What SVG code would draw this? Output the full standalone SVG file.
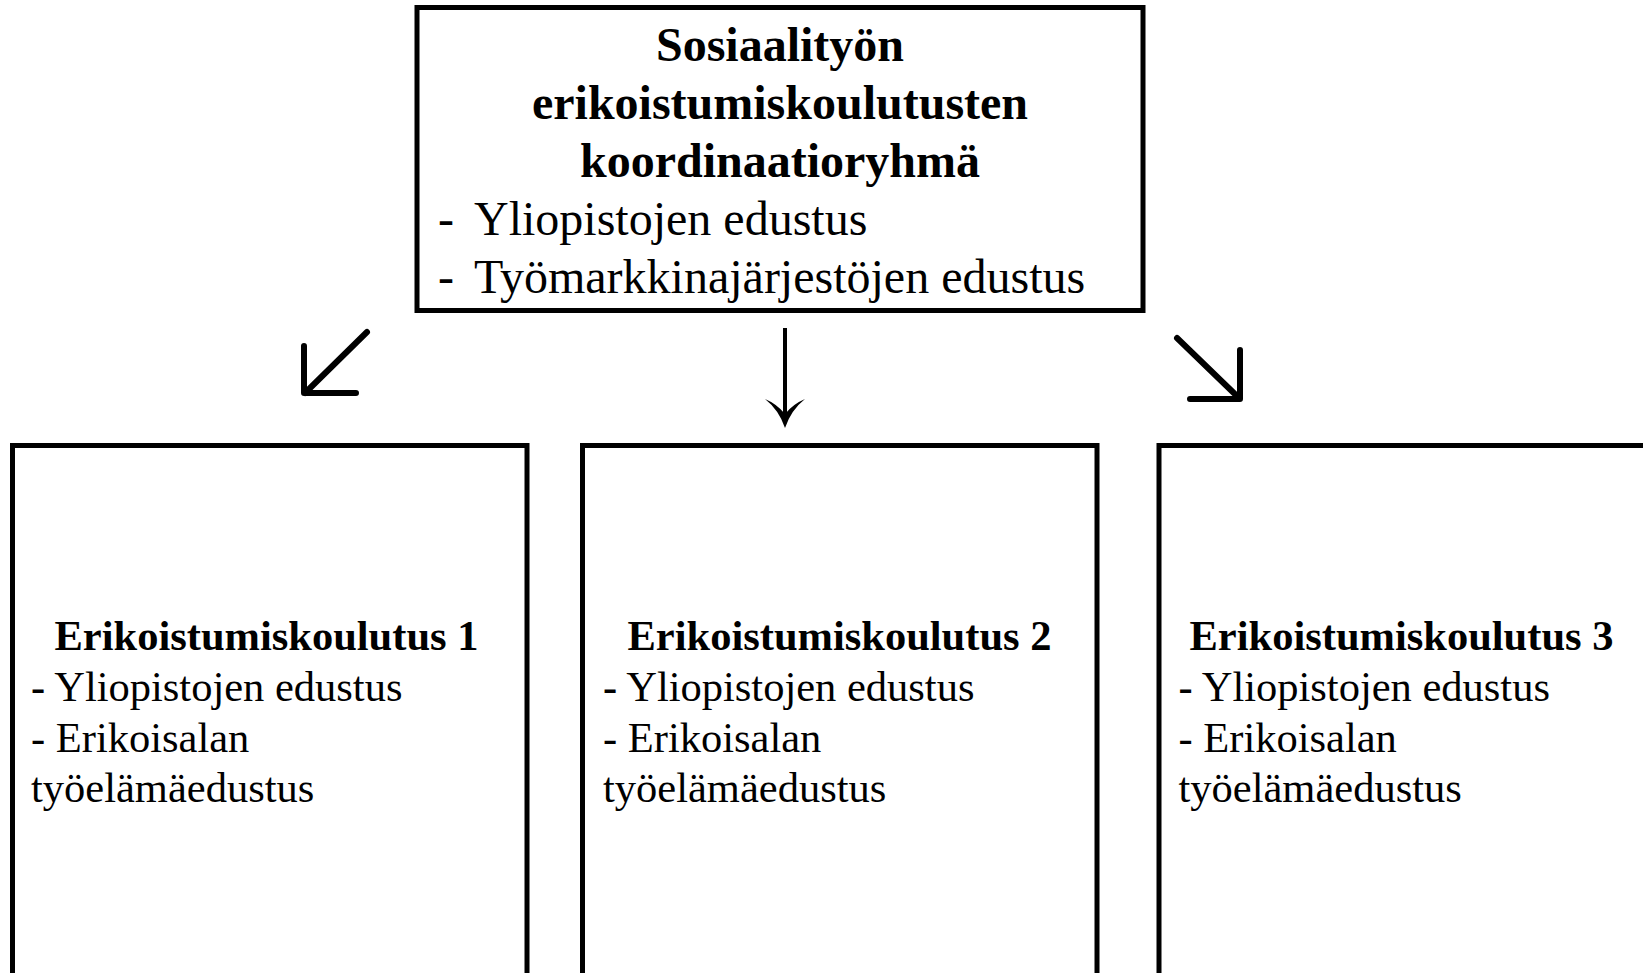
<svg xmlns="http://www.w3.org/2000/svg" width="1643" height="973" viewBox="0 0 1643 973">
<style>
.box{fill:#fff;stroke:#000;stroke-width:5}
.t{font-family:"Liberation Serif","Times New Roman",serif;fill:#000}
.tb{font-weight:bold}
.big{font-size:48px}
.sm{font-size:42.5px}
.arr{fill:none;stroke:#000;stroke-width:6;stroke-linecap:round;stroke-linejoin:round}
</style>
<rect width="1643" height="973" fill="#fff"/>
<g id="top">
<rect class="box" x="417" y="7.5" width="726" height="303"/>
<text class="t tb big" x="780" y="61" text-anchor="middle">Sosiaalityön</text>
<text class="t tb big" x="780" y="119" text-anchor="middle">erikoistumiskoulutusten</text>
<text class="t tb big" x="780" y="177" text-anchor="middle">koordinaatioryhmä</text>
<text class="t big" x="438" y="235">-</text>
<text class="t big" x="474" y="235">Yliopistojen edustus</text>
<text class="t big" x="438" y="293">-</text>
<text class="t big" x="474" y="293">Työmarkkinajärjestöjen edustus</text>
</g>
<g id="connectors">
<path class="arr" d="M367,332 L305,393 M304,346 L304,393 L356,393"/>
<path fill="none" stroke="#000" stroke-width="4" d="M785,328 L785,416"/>
<path fill="#000" d="M785,428 Q779,410 765,399 Q777,404 785,414 Q793,404 805,399 Q791,410 785,428 Z"/>
<path class="arr" d="M1177,338 L1239,398 M1240,350 L1240,399 L1190,399"/>
</g>
<g id="box1">
<rect class="box" x="12.5" y="445.5" width="514.5" height="530"/>
<text class="t tb sm" x="54.5" y="650">Erikoistumiskoulutus 1</text>
<text class="t sm" x="31" y="701"><tspan class="tb">-</tspan> Yliopistojen edustus</text>
<text class="t sm" x="31" y="752">- Erikoisalan</text>
<text class="t sm" x="31" y="802">työelämäedustus</text>
</g>
<g id="box2">
<rect class="box" x="582.5" y="445.5" width="514.5" height="530"/>
<text class="t tb sm" x="627.5" y="650">Erikoistumiskoulutus 2</text>
<text class="t sm" x="603" y="701"><tspan class="tb">-</tspan> Yliopistojen edustus</text>
<text class="t sm" x="603" y="752">- Erikoisalan</text>
<text class="t sm" x="603" y="802">työelämäedustus</text>
</g>
<g id="box3">
<rect class="box" x="1159" y="445.5" width="514.5" height="530"/>
<text class="t tb sm" x="1189.5" y="650">Erikoistumiskoulutus 3</text>
<text class="t sm" x="1178.5" y="701"><tspan class="tb">-</tspan> Yliopistojen edustus</text>
<text class="t sm" x="1178.5" y="752">- Erikoisalan</text>
<text class="t sm" x="1178.5" y="802">työelämäedustus</text>
</g>
</svg>
